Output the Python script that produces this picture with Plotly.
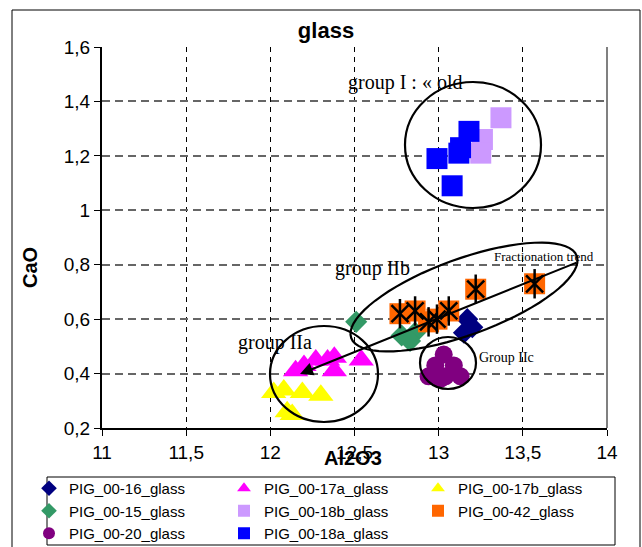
import numpy as np
import plotly.graph_objects as go

# ---------------- data ----------------
names = ["PIG_00-16_glass", "PIG_00-17a_glass", "PIG_00-17b_glass",
         "PIG_00-15_glass", "PIG_00-18b_glass", "PIG_00-42_glass",
         "PIG_00-20_glass", "PIG_00-18a_glass"]

x16 = [13.17, 13.20, 13.15]
y16 = [0.60, 0.57, 0.55]

x17a = [12.20, 12.27, 12.34, 12.38, 12.38, 12.54, 12.15]
y17a = [0.43, 0.45, 0.45, 0.46, 0.41, 0.45, 0.41]

x17b = [12.02, 12.08, 12.19, 12.30, 12.10, 12.13]
y17b = [0.33, 0.34, 0.33, 0.32, 0.26, 0.25]

x15 = [12.51, 12.78, 12.86, 12.83]
y15 = [0.59, 0.54, 0.55, 0.52]

x18b = [13.37, 13.26, 13.25]
y18b = [1.34, 1.26, 1.21]

x42 = [12.77, 12.86, 12.94, 12.99, 13.06, 13.22, 13.57]
y42 = [0.62, 0.63, 0.59, 0.60, 0.63, 0.71, 0.73]

x20 = [13.03, 12.98, 13.09, 12.94, 13.04, 13.13, 13.01]
y20 = [0.47, 0.43, 0.43, 0.39, 0.39, 0.39, 0.38]

x18a = [12.99, 13.18, 13.13, 13.08, 13.12]
y18a = [1.19, 1.29, 1.23, 1.09, 1.21]

x_ticks = [11, 11.5, 12, 12.5, 13, 13.5, 14]
y_ticks = [0.2, 0.4, 0.6, 0.8, 1.0, 1.2, 1.4, 1.6]

# ---------------- layout geometry ----------------
W, H = 642, 547
L, R, T, B = 102, 607, 47, 428
XR = (11, 14)
YR = (0.2, 1.6)


def px2x(p):
    return XR[0] + (p - L) / (R - L) * (XR[1] - XR[0])


def py2y(p):
    return YR[1] - (p - T) / (B - T) * (YR[1] - YR[0])


def cx(p):  # container fraction
    return p / W


def cy(p):
    return 1 - p / H


def px_paper(p):
    return (p - L) / (R - L)


def py_paper(p):
    return (B - p) / (B - T)


FONT = "Arial, Liberation Sans, sans-serif"
SERIF = "Times New Roman, Liberation Serif, serif"

fig = go.Figure()

styles = [
    (x16, y16, "diamond", "#000080", 17, "legend"),
    (x17a, y17a, "triangle-up", "#ff00ff", 22, "legend2"),
    (x17b, y17b, "triangle-up", "#ffff00", 22, "legend3"),
    (x15, y15, "diamond", "#339966", 17, "legend"),
    (x18b, y18b, "square", "#cc99ff", 21, "legend2"),
    (x42, y42, "square", "#ff6600", 21, "legend3"),
    (x20, y20, "circle", "#800080", 18, "legend"),
    (x18a, y18a, "square", "#0000ff", 21, "legend2"),
]

for name, (xs, ys, sym, col, sz, lg) in zip(names, styles):
    fig.add_trace(go.Scatter(
        x=xs, y=ys, mode="markers", name=name, legend=lg,
        marker=dict(symbol=sym, color=col, size=sz, line=dict(width=0)),
    ))
    if name == "PIG_00-42_glass":
        for osym, osz in (("x-thin-open", 17), ("line-ns-open", 21)):
            fig.add_trace(go.Scatter(
                x=xs, y=ys, mode="markers", showlegend=False, name=name,
                marker=dict(symbol=osym, size=osz, color="black",
                            line=dict(color="black", width=2.5)),
            ))

shapes = []
# outer frame
shapes.append(dict(type="rect", xref="paper", yref="paper",
                   x0=px_paper(12), x1=px_paper(640), y0=py_paper(560), y1=py_paper(10),
                   line=dict(color="black", width=1), layer="below"))
# right plot border (grey)
shapes.append(dict(type="line", xref="paper", yref="paper",
                   x0=1, x1=1, y0=0, y1=1, line=dict(color="#808080", width=2)))
# legend box
shapes.append(dict(type="rect", xref="paper", yref="paper",
                   x0=px_paper(47), x1=px_paper(615), y0=py_paper(545), y1=py_paper(477),
                   line=dict(color="black", width=1)))

ell = dict(color="black", width=2.2)
# group I ellipse
shapes.append(dict(type="circle", xref="x", yref="y",
                   x0=px2x(405), x1=px2x(541), y0=py2y(208), y1=py2y(82), line=ell))
# group IIa ellipse
shapes.append(dict(type="circle", xref="x", yref="y",
                   x0=px2x(270), x1=px2x(378), y0=py2y(422), y1=py2y(326), line=ell))
# group IIc ellipse
shapes.append(dict(type="circle", xref="x", yref="y",
                   x0=px2x(420), x1=px2x(476), y0=py2y(389), y1=py2y(337), line=ell))
# group IIb rotated ellipse
t = np.linspace(0, 2 * np.pi, 73)
th = np.radians(20)
a, b = 120, 38
ecx, ecy = 464, 297
ex = ecx + a * np.cos(th) * np.cos(t) - b * np.sin(th) * np.sin(t)
ey = ecy - (a * np.sin(th) * np.cos(t) + b * np.cos(th) * np.sin(t))
path = "M " + " L ".join(f"{px2x(u):.4f},{py2y(v):.4f}" for u, v in zip(ex, ey)) + " Z"
shapes.append(dict(type="path", xref="x", yref="y", path=path, line=ell))

annotations = [
    dict(x=px2x(300), y=py2y(374), ax=px2x(578), ay=py2y(262), axref="x", ayref="y",
         xref="x", yref="y", text="", showarrow=True, arrowhead=2, arrowsize=1.3,
         arrowwidth=2, arrowcolor="black"),
    dict(x=px2x(346), y=py2y(82), xref="x", yref="y", text="group I : « old",
         showarrow=False, xanchor="left", yanchor="middle",
         font=dict(family=SERIF, size=20, color="black")),
    dict(x=px2x(333), y=py2y(268), xref="x", yref="y", text="group IIb",
         showarrow=False, xanchor="left", yanchor="middle",
         font=dict(family=SERIF, size=20, color="black")),
    dict(x=px2x(236), y=py2y(342), xref="x", yref="y", text="group IIa",
         showarrow=False, xanchor="left", yanchor="middle",
         font=dict(family=SERIF, size=20, color="black")),
    dict(x=px2x(477), y=py2y(357), xref="x", yref="y", text="Group IIc",
         showarrow=False, xanchor="left", yanchor="middle",
         font=dict(family=SERIF, size=14, color="black")),
    dict(x=px2x(492), y=py2y(256), xref="x", yref="y", text="Fractionation trend",
         showarrow=False, xanchor="left", yanchor="middle",
         font=dict(family=SERIF, size=13, color="black")),
    # axis titles
    dict(x=px_paper(353), y=py_paper(458), xref="paper", yref="paper", text="<b>Al2O3</b>",
         showarrow=False, xanchor="center", yanchor="middle",
         font=dict(family=FONT, size=20, color="black")),
    dict(x=px_paper(30), y=py_paper(268), xref="paper", yref="paper", text="<b>CaO</b>",
         showarrow=False, xanchor="center", yanchor="middle", textangle=-90,
         font=dict(family=FONT, size=20, color="black")),
]

leg_common = dict(orientation="v", xref="container", yref="container",
                  xanchor="left", yanchor="top",
                  font=dict(size=15, family=FONT, color="black"),
                  bgcolor="rgba(0,0,0,0)", borderwidth=0, itemsizing="constant",
                  tracegroupgap=0)

fig.update_layout(
    width=W, height=H,
    margin=dict(l=L, r=W - R, t=T, b=H - B, pad=0, autoexpand=False),
    paper_bgcolor="white", plot_bgcolor="white",
    separators=", ",
    font=dict(family=FONT, color="black"),
    title=dict(text="<b>glass</b>", x=cx(326), xref="container", xanchor="center",
               y=cy(30), yref="container", yanchor="middle", automargin=False,
               font=dict(family=FONT, size=22, color="black")),
    xaxis=dict(range=list(XR), tickvals=x_ticks, showline=True, linecolor="black",
               linewidth=2, ticks="outside", ticklen=6, tickcolor="black",
               showgrid=True, gridcolor="black", griddash="5px,5px", gridwidth=1,
               zeroline=False, tickfont=dict(size=19, family=FONT), automargin=False),
    yaxis=dict(range=list(YR), tickvals=y_ticks, showline=True, linecolor="black",
               linewidth=2, ticks="outside", ticklen=6, tickcolor="black",
               showgrid=True, gridcolor="#666666", griddash="8px,5px", gridwidth=1.5,
               zeroline=False, tickfont=dict(size=19, family=FONT), automargin=False),
    shapes=shapes,
    annotations=annotations,
    legend=dict(x=cx(29), y=cy(472), **leg_common),
    legend2=dict(x=cx(224), y=cy(472), **leg_common),
    legend3=dict(x=cx(418), y=cy(472), **leg_common),
    showlegend=True,
)

fig.write_html("out.html",
               config={"displayModeBar": False},
               post_script="document.body.style.margin='0px';"
                           "document.body.style.overflow='hidden';")
